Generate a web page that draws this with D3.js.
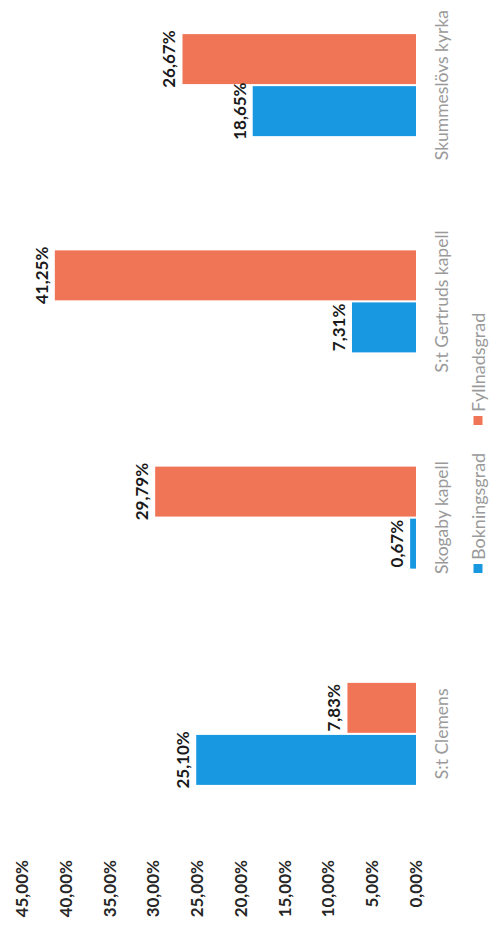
<!DOCTYPE html>
<html>
<head>
<meta charset="utf-8">
<script src="https://cdn.jsdelivr.net/npm/d3@7/dist/d3.min.js"></script>
<style>
  html, body { margin: 0; padding: 0; background: #ffffff; }
  svg { display: block; }
</style>
</head>
<body>
<svg id="chart" width="492" height="928"></svg>
<script>
// ---- data ----
const categories = ["S:t Clemens", "Skogaby kapell", "S:t Gertruds kapell", "Skummeslövs kyrka"];
const seriesNames = ["Bokningsgrad", "Fyllnadsgrad"];
const bokningsgrad = [0.2510, 0.0067, 0.0731, 0.1865];
const fyllnadsgrad = [0.0783, 0.2979, 0.4125, 0.2667];
const tickValues = [0, 0.05, 0.10, 0.15, 0.20, 0.25, 0.30, 0.35, 0.40, 0.45];
const seriesColors = ["#1798E0", "#EF7556"];

const fmt = v => (v * 100).toFixed(2).replace(".", ",") + "%";

const svg = d3.select("#chart");
svg.append("rect").attr("width", 492).attr("height", 928).attr("fill", "#fff");

// The whole chart is drawn as an ordinary column chart and turned a quarter turn counter-clockwise.
const g = svg.append("g").attr("transform", "translate(0,928) rotate(-90)");

const x0 = d3.scaleBand().domain(categories).range([86, 951]).padding(0);
const x1 = d3.scaleBand().domain(seriesNames).range([-51, 51]).paddingInner(0.04);
const y = d3.scaleLinear().domain([0, 0.45]).range([416, 22]);

const rows = categories.map((c, i) => ({
  cat: c,
  vals: [bokningsgrad[i], fyllnadsgrad[i]].map((v, j) => ({ s: seriesNames[j], v, c: seriesColors[j] }))
}));

// value axis labels
const yAxis = d3.axisLeft(y).tickValues(tickValues).tickFormat(fmt).tickSize(0).tickPadding(0);
const ya = g.append("g").attr("transform", "translate(68,0)").call(yAxis);
ya.select(".domain").remove();
ya.selectAll("text")
  .attr("font-family", "Lato, 'Open Sans', sans-serif")
  .attr("font-size", 17)
  .attr("font-weight", 700)
  .attr("fill", "#262626");

// bars
const grp = g.selectAll(".cat").data(rows).join("g")
  .attr("class", "cat")
  .attr("transform", d => `translate(${x0(d.cat) + x0.bandwidth() / 2},0)`);

grp.selectAll("rect").data(d => d.vals).join("rect")
  .attr("x", d => x1(d.s))
  .attr("width", x1.bandwidth())
  .attr("y", d => y(d.v))
  .attr("height", d => y(0) - y(d.v))
  .attr("fill", d => d.c);

grp.selectAll("text.val").data(d => d.vals).join("text")
  .attr("class", "val")
  .attr("x", d => x1(d.s) + x1.bandwidth() / 2)
  .attr("y", d => y(d.v) - 7)
  .attr("text-anchor", "middle")
  .attr("font-family", "Lato, 'Open Sans', sans-serif")
  .attr("font-size", 17)
  .attr("font-weight", 700)
  .attr("fill", "#1a1a1a")
  .text(d => fmt(d.v));

// category axis labels
const xAxis = d3.axisBottom(x0).tickSize(0).tickPadding(0);
const xa = g.append("g").attr("transform", `translate(0,${y(0) + 32})`).call(xAxis);
xa.select(".domain").remove();
xa.selectAll("text")
  .attr("dy", 0)
  .attr("font-family", "Lato, 'Open Sans', sans-serif")
  .attr("font-size", 17.5)
  .attr("fill", "#9a9a9a");

// legend
const legendX = [355, 503];
const leg = g.append("g").selectAll("g").data(seriesNames).join("g")
  .attr("transform", (d, i) => `translate(${legendX[i]},478)`);
leg.append("rect").attr("x", 0).attr("y", -4.5).attr("width", 9).attr("height", 9)
  .attr("fill", (d, i) => seriesColors[i]);
leg.append("text").attr("x", 13).attr("y", 7)
  .attr("font-family", "Lato, 'Open Sans', sans-serif")
  .attr("font-size", 18)
  .attr("fill", "#9a9a9a")
  .text(d => d);
</script>
</body>
</html>
